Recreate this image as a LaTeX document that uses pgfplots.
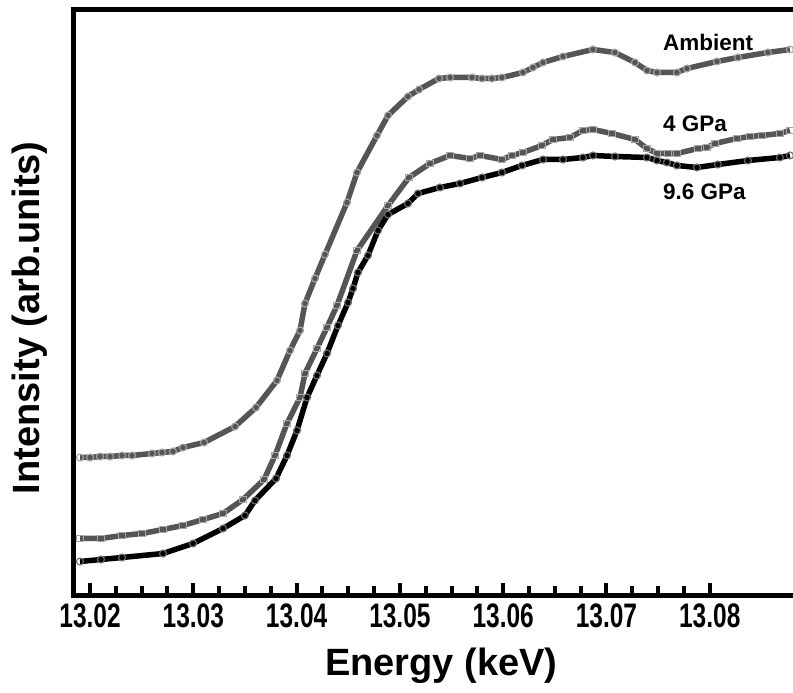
\documentclass[border=0pt]{standalone}
\usepackage{fontspec}
\setmainfont{Liberation Sans}
\newfontfamily\tickfont{Liberation Sans}[FakeStretch=0.72]
\usepackage{pgfplots}
\pgfplotsset{compat=1.18}
\definecolor{dgray}{RGB}{85,85,85}
\definecolor{mgray}{RGB}{165,165,165}
\definecolor{kgray}{RGB}{110,110,110}
\begin{document}
\begin{tikzpicture}
\useasboundingbox (0,0) rectangle (793pt,693pt);
\begin{axis}[
  at={(73.5pt,97.5pt)}, anchor=south west,
  scale only axis, width=722.5pt, height=586pt,
  xmin=13.0184, xmax=13.08835, ymin=0, ymax=586,
  axis line style={line width=5pt, black},
  xtick={13.02,13.03,13.04,13.05,13.06,13.07,13.08},
  xticklabels={13.02,13.03,13.04,13.05,13.06,13.07,13.08},
  minor x tick num=3,
  ytick=\empty,
  xtick pos=bottom, tick align=inside,
  major tick length=12pt, minor tick length=9pt,
  every tick/.style={black, line width=4pt},
  every minor tick/.style={black, line width=4pt},
  xticklabel style={font=\tickfont\bfseries\fontsize{34}{40}\selectfont, inner sep=0pt, yshift=-8pt},
  xlabel={Energy (keV)},
  xlabel style={font=\bfseries\fontsize{38}{44}\selectfont, at={(axis description cs:0.509,0)}, anchor=base, yshift=-80pt, inner sep=0pt},
  ylabel={Intensity (arb.units)},
  ylabel style={font=\bfseries\fontsize{38}{44}\selectfont, at={(axis description cs:-0.0464,0.474)}, anchor=base, inner sep=0pt},
  clip=true,
]
\addplot[dgray, line width=5.5pt, mark=o, mark size=3.5pt, mark options={draw=mgray, line width=1.1pt, fill=none}] coordinates {
(13.01903,138) (13.02000,138) (13.02097,139) (13.02194,139) (13.02310,140) (13.02407,140)
(13.02600,142) (13.02697,143) (13.02803,144) (13.02900,148) (13.03104,153) (13.03404,169)
(13.03607,188) (13.03810,215) (13.03936,245) (13.04033,265) (13.04081,292) (13.04178,317)
(13.04275,341) (13.04488,393) (13.04585,423) (13.04778,460) (13.04885,480) (13.05078,499)
(13.05185,506) (13.05378,517) (13.05485,518) (13.05698,518) (13.05795,517) (13.05891,517)
(13.05988,518) (13.06192,523) (13.06288,528) (13.06385,533) (13.06579,539) (13.06869,546)
(13.07082,543) (13.07276,533) (13.07392,525) (13.07489,523) (13.07682,523) (13.07779,527)
(13.08070,534) (13.08273,538) (13.08563,543) (13.08776,546)
};
\addplot[dgray, line width=5.5pt, mark=square, mark size=3.2pt, mark options={draw=mgray, line width=1.1pt, fill=none}] coordinates {
(13.01903,57) (13.02106,57) (13.02310,60) (13.02504,62) (13.02707,66) (13.02900,70)
(13.03094,76) (13.03288,82) (13.03481,96) (13.03685,116) (13.03791,140) (13.03907,172)
(13.04033,198) (13.04081,222) (13.04197,247) (13.04294,268) (13.04391,290) (13.04585,345)
(13.04885,390) (13.05088,418) (13.05291,432) (13.05485,440) (13.05678,437) (13.05775,440)
(13.05988,436) (13.06085,440) (13.06192,443) (13.06375,450) (13.06482,456) (13.06646,458)
(13.06772,465) (13.06869,466) (13.07053,462) (13.07276,456) (13.07392,447) (13.07489,442)
(13.07595,442) (13.07682,442) (13.07885,447) (13.07973,448) (13.08050,452) (13.08263,457)
(13.08389,459) (13.08505,460) (13.08679,462) (13.08776,465)
};
\addplot[black, line width=5.5pt, mark=o, mark size=3.5pt, mark options={draw=kgray, line width=1.1pt, fill=none}] coordinates {
(13.01903,34) (13.02106,36) (13.02310,38) (13.02707,42) (13.02997,52) (13.03288,67)
(13.03500,80) (13.03597,95) (13.03801,117) (13.03907,140) (13.04004,165) (13.04101,198)
(13.04197,220) (13.04294,242) (13.04401,270) (13.04498,293) (13.04546,307) (13.04594,323)
(13.04691,340) (13.04788,365) (13.04885,381) (13.05078,392) (13.05175,402) (13.05388,408)
(13.05582,412) (13.05795,418) (13.05988,423) (13.06182,430) (13.06385,436) (13.06579,436)
(13.06772,438) (13.06869,440) (13.07082,439) (13.07392,438) (13.07489,435) (13.07585,433)
(13.07682,430) (13.07876,428) (13.08079,431) (13.08369,435) (13.08679,438) (13.08776,440)
};
\node[anchor=base west, inner sep=0pt, font=\bfseries\fontsize{22.5}{26}\selectfont] at (axis cs:13.07547,545) {Ambient};
\node[anchor=base west, inner sep=0pt, font=\bfseries\fontsize{22.5}{26}\selectfont] at (axis cs:13.07547,464) {4 GPa};
\node[anchor=base west, inner sep=0pt, font=\bfseries\fontsize{22.5}{26}\selectfont] at (axis cs:13.07547,396) {9.6 GPa};
\end{axis}
\end{tikzpicture}
\end{document}
